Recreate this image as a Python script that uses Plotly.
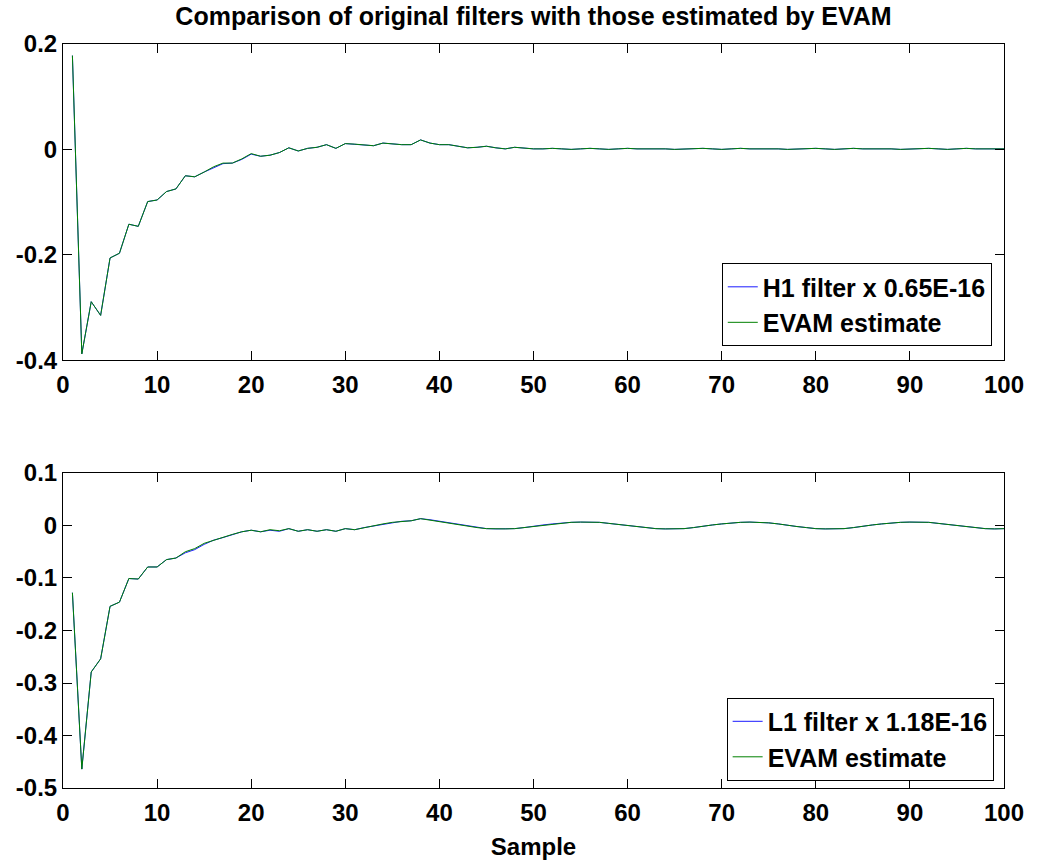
import plotly.graph_objects as go

samples = list(range(1, 101))

h1_filter = [
    0.178, -0.388, -0.289, -0.315, -0.206, -0.197, -0.142, -0.146, -0.099, -0.096,
    -0.080, -0.075, -0.050, -0.052, -0.043, -0.035, -0.027, -0.026, -0.019, -0.009,
    -0.013, -0.011, -0.006, 0.003, -0.003, 0.002, 0.004, 0.009, 0.002, 0.011,
    0.010, 0.009, 0.007, 0.012, 0.010, 0.009, 0.009, 0.018, 0.012, 0.009,
    0.009, 0.006, 0.003, 0.004, 0.006, 0.003, 0.001, 0.004, 0.002, 0.001,
    0.001, 0.002, 0.001, 0.000, 0.001, 0.002, 0.001, 0.000, 0.001, 0.002,
    0.001, 0.001, 0.002, 0.001, 0.000, 0.001, 0.002, 0.002, 0.001, 0.000,
    0.001, 0.002, 0.001, 0.001, 0.002, 0.001, 0.000, 0.001, 0.002, 0.002,
    0.001, 0.000, 0.001, 0.002, 0.001, 0.001, 0.002, 0.001, 0.000, 0.001,
    0.002, 0.002, 0.001, 0.000, 0.001, 0.002, 0.001, 0.001, 0.002, 0.001,
]

h1_estimate = [
    0.178, -0.388, -0.289, -0.315, -0.206, -0.197, -0.142, -0.146, -0.099, -0.096,
    -0.080, -0.075, -0.050, -0.052, -0.043, -0.033, -0.026, -0.026, -0.018, -0.008,
    -0.013, -0.011, -0.006, 0.003, -0.003, 0.002, 0.004, 0.009, 0.002, 0.011,
    0.010, 0.009, 0.007, 0.012, 0.010, 0.009, 0.009, 0.018, 0.012, 0.009,
    0.009, 0.006, 0.003, 0.004, 0.006, 0.003, 0.001, 0.004, 0.002, 0.001,
    0.001, 0.002, 0.001, 0.000, 0.001, 0.002, 0.001, 0.000, 0.001, 0.002,
    0.001, 0.001, 0.002, 0.001, 0.000, 0.001, 0.002, 0.002, 0.001, 0.000,
    0.001, 0.002, 0.001, 0.001, 0.002, 0.001, 0.000, 0.001, 0.002, 0.002,
    0.001, 0.000, 0.001, 0.002, 0.001, 0.001, 0.002, 0.001, 0.000, 0.001,
    0.002, 0.002, 0.001, 0.000, 0.001, 0.002, 0.001, 0.001, 0.002, 0.001,
]

l1_filter = [
    -0.128, -0.464, -0.279, -0.254, -0.154, -0.146, -0.101, -0.102, -0.079, -0.079,
    -0.065, -0.062, -0.052, -0.046, -0.036, -0.028, -0.023, -0.017, -0.012, -0.009,
    -0.012, -0.009, -0.011, -0.006, -0.011, -0.008, -0.011, -0.008, -0.011, -0.006,
    -0.008, -0.004, -0.001, 0.003, 0.006, 0.008, 0.009, 0.013, 0.011, 0.008,
    0.005, 0.002, -0.001, -0.004, -0.006, -0.0065, -0.0065, -0.006, -0.004, -0.001,
    0.001, 0.003, 0.005, 0.006, 0.0065, 0.0065, 0.006, 0.004, 0.002, -0.001,
    -0.003, -0.005, -0.006, -0.0065, -0.0065, -0.006, -0.004, -0.001, 0.001, 0.003,
    0.005, 0.006, 0.0065, 0.006, 0.005, 0.003, 0.000, -0.002, -0.004, -0.006,
    -0.0065, -0.0065, -0.006, -0.004, -0.001, 0.001, 0.003, 0.005, 0.006, 0.0065,
    0.0065, 0.006, 0.004, 0.002, -0.001, -0.003, -0.005, -0.006, -0.0065, -0.006,
]

l1_estimate = [
    -0.128, -0.464, -0.279, -0.254, -0.154, -0.146, -0.101, -0.102, -0.079, -0.079,
    -0.065, -0.062, -0.050, -0.044, -0.034, -0.028, -0.023, -0.017, -0.012, -0.009,
    -0.012, -0.008, -0.010, -0.006, -0.011, -0.008, -0.011, -0.008, -0.011, -0.006,
    -0.008, -0.004, -0.001, 0.003, 0.006, 0.008, 0.009, 0.013, 0.010, 0.007,
    0.005, 0.002, -0.001, -0.004, -0.006, -0.0065, -0.0065, -0.006, -0.004, -0.001,
    0.001, 0.003, 0.005, 0.006, 0.0065, 0.0065, 0.006, 0.004, 0.002, -0.001,
    -0.003, -0.005, -0.006, -0.0065, -0.0065, -0.006, -0.004, -0.001, 0.001, 0.003,
    0.005, 0.006, 0.0065, 0.006, 0.005, 0.003, 0.000, -0.002, -0.004, -0.006,
    -0.0065, -0.0065, -0.006, -0.004, -0.001, 0.001, 0.003, 0.005, 0.006, 0.0065,
    0.0065, 0.006, 0.004, 0.002, -0.001, -0.003, -0.005, -0.006, -0.0065, -0.006,
]

x_ticks = [0, 10, 20, 30, 40, 50, 60, 70, 80, 90, 100]
x_tick_labels = [str(v) for v in x_ticks]
top_y_ticks = [-0.4, -0.2, 0.0, 0.2]
top_y_labels = ["-0.4", "-0.2", "0", "0.2"]
bot_y_ticks = [-0.5, -0.4, -0.3, -0.2, -0.1, 0.0, 0.1]
bot_y_labels = ["-0.5", "-0.4", "-0.3", "-0.2", "-0.1", "0", "0.1"]

FONT = "Liberation Sans, Arial, sans-serif"
BLUE = "#1a1aff"
GREEN = "#008000"

fig = go.Figure()
fig.add_trace(go.Scatter(x=samples, y=h1_filter, mode="lines", name="H1 filter x 0.65E-16",
                         line=dict(color=BLUE, width=1), xaxis="x", yaxis="y", legend="legend"))
fig.add_trace(go.Scatter(x=samples, y=h1_estimate, mode="lines", name="EVAM estimate",
                         line=dict(color=GREEN, width=1), xaxis="x", yaxis="y", legend="legend"))
fig.add_trace(go.Scatter(x=samples, y=l1_filter, mode="lines", name="L1 filter x 1.18E-16",
                         line=dict(color=BLUE, width=1), xaxis="x2", yaxis="y2", legend="legend2"))
fig.add_trace(go.Scatter(x=samples, y=l1_estimate, mode="lines", name="EVAM estimate",
                         line=dict(color=GREEN, width=1), xaxis="x2", yaxis="y2", legend="legend2"))

axis_common = dict(showgrid=False, zeroline=False, showline=True, linecolor="black", linewidth=1,
                   mirror="ticks", ticks="inside", ticklen=9, tickcolor="black", tickwidth=1,
                   automargin=False,
                   tickfont=dict(family=FONT, size=24, color="black", weight="bold"))

fig.update_layout(
    width=1042, height=860,
    margin=dict(l=63, r=38, t=44, b=72, autoexpand=False),
    paper_bgcolor="white", plot_bgcolor="white",
    title=dict(text="Comparison of original filters with those estimated by EVAM",
               x=0.5, xref="paper", y=1 - 16 / 860, yanchor="middle",
               font=dict(family=FONT, size=25, color="black", weight="bold")),
    xaxis=dict(domain=[0, 1], range=[0, 100], tickvals=x_ticks, ticktext=x_tick_labels,
               anchor="y", ticklabelstandoff=3, **axis_common),
    yaxis=dict(domain=[0.575, 1], range=[-0.4, 0.2], tickvals=top_y_ticks, ticktext=top_y_labels,
               anchor="x", **axis_common),
    xaxis2=dict(domain=[0, 1], range=[0, 100], tickvals=x_ticks, ticktext=x_tick_labels,
                anchor="y2", ticklabelstandoff=3,
                title=dict(text="Sample", font=dict(family=FONT, size=24, color="black", weight="bold"),
                           standoff=15),
                **axis_common),
    yaxis2=dict(domain=[0, 0.4234], range=[-0.5, 0.1], tickvals=bot_y_ticks, ticktext=bot_y_labels,
                anchor="x2", **axis_common),
    legend=dict(x=0.987, xanchor="right", y=0.594, yanchor="bottom",
                bgcolor="white", bordercolor="black", borderwidth=1,
                font=dict(family=FONT, size=25, color="black", weight="bold"),
                tracegroupgap=0),
    legend2=dict(x=0.989, xanchor="right", y=0.01, yanchor="bottom",
                 bgcolor="white", bordercolor="black", borderwidth=1,
                 font=dict(family=FONT, size=25, color="black", weight="bold"),
                 tracegroupgap=0),
    showlegend=True,
)

fig.write_html("out.html")
